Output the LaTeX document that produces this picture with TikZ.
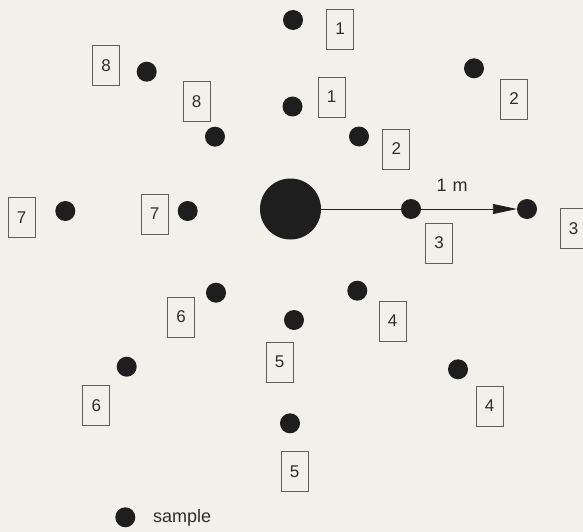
\documentclass[tikz,border=0pt]{standalone}
\usepackage{fontspec}
\setmainfont{Liberation Sans}
\usetikzlibrary{arrows.meta}
\definecolor{bg}{HTML}{F1F0EB}
\definecolor{ink}{HTML}{1E1E1E}
\definecolor{txt}{HTML}{2E2E2E}
\definecolor{frame}{HTML}{5E5E5A}
\begin{document}
\begin{tikzpicture}[x=1pt,y=-1pt,
  dot/.style={circle,fill=ink,inner sep=0pt,minimum size=20pt},
  bigdot/.style={circle,fill=ink,inner sep=0pt,minimum size=61pt},
  lbl/.style={draw=frame,line width=0.9pt,minimum width=27pt,minimum height=40pt,inner sep=0pt,
    text=txt,font=\fontsize{17}{19}\selectfont},
  plain/.style={text=txt,font=\fontsize{18}{20}\selectfont,inner sep=0pt}]
\fill[bg] (0,0) rectangle (583,532);
\useasboundingbox (0,0) rectangle (583,532);
\begin{scope}
\clip (0,0) rectangle (583,532);
% centre
\node[bigdot] (c) at (290.5,209) {};
% inner ring
\node[dot] (i1) at (292.5,106.5) {};
\node[dot] (i2) at (359,136.5) {};
\node[dot] (i3) at (411,209) {};
\node[dot] (i4) at (357.3,290.7) {};
\node[dot] (i5) at (294,320) {};
\node[dot] (i6) at (216,292.7) {};
\node[dot] (i7) at (187.7,211) {};
\node[dot] (i8) at (215,136.7) {};
% outer ring
\node[dot] (o1) at (293,20) {};
\node[dot] (o2) at (474,68.3) {};
\node[dot] (o3) at (527,209) {};
\node[dot] (o4) at (458,369.3) {};
\node[dot] (o5) at (290,423.3) {};
\node[dot] (o6) at (126.7,366.7) {};
\node[dot] (o7) at (65.3,211) {};
\node[dot] (o8) at (146.7,71.7) {};
% labels
\node[lbl] (bi1) at (331.5,97) {1};
\node[lbl] (bi2) at (396.3,149) {2};
\node[lbl] (bi3) at (439,243) {3};
\node[lbl] (bi4) at (392.5,321) {4};
\node[lbl] (bi5) at (279.5,362) {5};
\node[lbl] (bi6) at (181,317) {6};
\node[lbl] (bi7) at (154.5,214) {7};
\node[lbl] (bi8) at (196.5,101.5) {8};
\node[lbl] (bo1) at (340,29) {1};
\node[lbl] (bo2) at (514,99) {2};
\node[lbl] (bo3) at (573.5,228.5) {3};
\node[lbl] (bo4) at (489.5,406) {4};
\node[lbl] (bo5) at (294.5,471.5) {5};
\node[lbl] (bo6) at (96.3,405.7) {6};
\node[lbl] (bo7) at (21.5,217.5) {7};
\node[lbl] (bo8) at (106,65.5) {8};
% distance arrow
\draw[ink,line width=0.9pt,-{Triangle[length=24pt,width=10pt]}] (c) -- (o3);
\node[plain] (dist) at (452,185) {1\,\,m};
% legend
\node[dot] (leg) at (125.3,517.3) {};
\node[plain,anchor=west] (legt) at (153,518) {sample};
\end{scope}
\end{tikzpicture}
\end{document}
